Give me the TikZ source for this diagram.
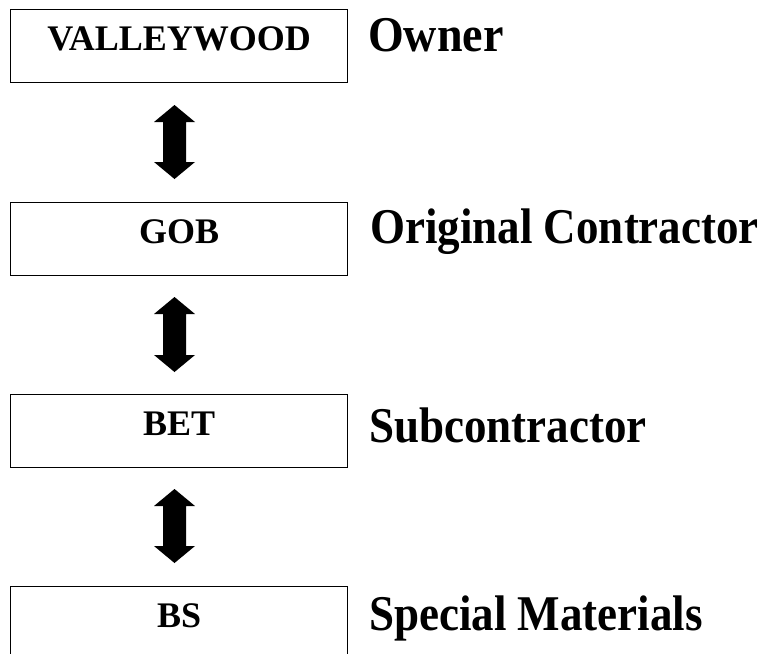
\documentclass[tikz,border=0pt]{standalone}
\usepackage{fontspec}
\setmainfont{Liberation Serif}
\begin{document}
\begin{tikzpicture}[x=1pt,y=-1pt,
  box/.style={draw=black, line width=1.2pt, rectangle, minimum width=337pt, minimum height=73pt,
    inner sep=0pt, text height=24pt, text depth=16pt, anchor=north west,
    font=\bfseries\fontsize{36}{36}\selectfont},
  role/.style={anchor=base west, inner sep=0pt, font=\bfseries\fontsize{50}{50}\selectfont},
  blockarrow/.style={fill=black}]
\useasboundingbox (0,0) rectangle (773,653);
\fill[white] (0,0) rectangle (773,653);

\node[box] (v) at (10,9) {VALLEYWOOD};
\node[box] (g) at (10,202) {GOB};
\node[box] (b) at (10,394) {BET};
\node[box] (s) at (10,586) {BS};

\node[role] (lv) at (368,51) {\scalebox{0.92}[1]{Owner}};
\node[role] (lg) at (370,243) {\scalebox{0.9}[1]{Original Contractor}};
\node[role] (lb) at (369,442) {\scalebox{0.9}[1]{Subcontractor}};
\node[role] (ls) at (369,630) {\scalebox{0.9}[1]{Special Materials}};

\newcommand{\dblarr}[2]{%
  \fill[blockarrow] (174.5,#1) -- (195,#1+17) -- (186,#1+17) -- (186,#2-17) -- (195,#2-17)
    -- (174.5,#2) -- (154,#2-17) -- (163,#2-17) -- (163,#1+17) -- (154,#1+17) -- cycle;}
\dblarr{105}{179}
\dblarr{297}{372}
\dblarr{489}{563}
\end{tikzpicture}
\end{document}
